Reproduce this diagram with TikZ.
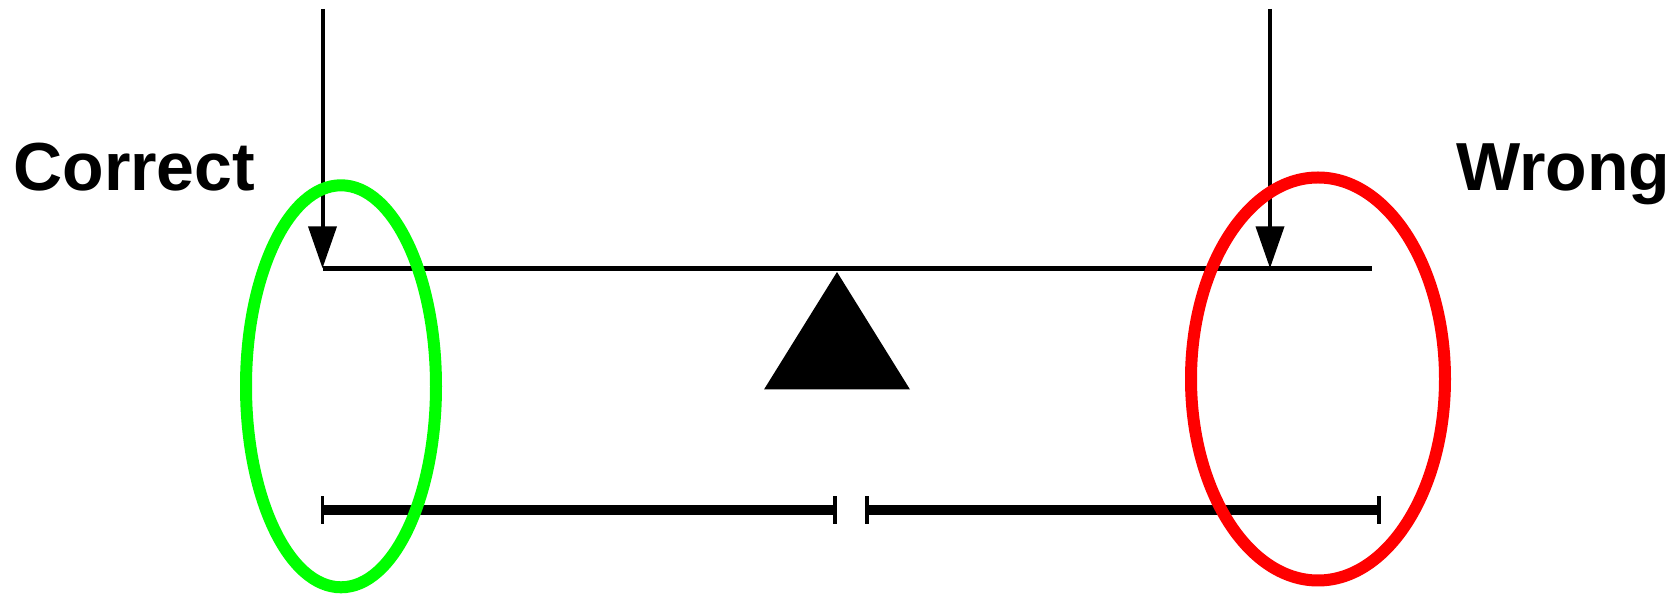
\documentclass[tikz,border=0pt]{standalone}
\usepackage{fontspec}
\setmainfont{Liberation Sans}
\usetikzlibrary{
    positioning,
    arrows.meta
}
\definecolor{verde}{RGB}{0,255,0}
\definecolor{rojo}{RGB}{255,0,0}
\tikzset{
    >=Stealth,
    fuerza/.style={
        line width=2pt,
        -{Triangle[width=14pt,length=21pt]}
    },
    barra/.style={
        line width=2.3pt
    },
    cota/.style={
        line width=5pt,
        {Bar[width=13.7pt,line width=1.8pt]}-{Bar[width=13.7pt,line width=1.8pt]}
    },
    anillo/.style={
        line width=6pt
    },
    etiqueta/.style={
        font=\bfseries\fontsize{34}{40}\selectfont,
        inner sep=0pt,
        anchor=base west
    }
}
\begin{document}
\begin{tikzpicture}[
    x=0.5pt,
    y=0.5pt
]
    \useasboundingbox (0,0) rectangle (1678,594);

    % Puntos
    \coordinate (fl) at (322.5,585);
    \coordinate (fr) at (1270,585);
    \coordinate (bl) at (322.5,325.7);
    \coordinate (br) at (1372,325.7);
    \coordinate (pl) at (bl-|fr);

    \coordinate (cl) at (320.5,84);
    \coordinate (cm) at (837,84);
    \coordinate (cn) at (865,84);
    \coordinate (cr) at (1381,84);

    % Textos
    \node[etiqueta] (correct) at (13,403.5)   {Correct};
    \node[etiqueta] (wrong)   at (1456,403.5) {Wrong};

    % Barra y fuerzas
    \draw[barra] (bl) -- (br);
    \draw[fuerza] (fl) -- (bl);
    \draw[fuerza] (fr) -- (pl);

    % Apoyo
    \fill (837,322) -- (910,204.5) -- (764,204.5) -- cycle;

    % Cotas
    \draw[cota] (cl) -- (cm);
    \draw[cota] (cn) -- (cr);

    % Anillos
    \draw[anillo, verde] (341,207.7) ellipse [x radius=95, y radius=201];
    \draw[anillo, rojo] (1318,215) ellipse [x radius=127, y radius=201.5];

\end{tikzpicture}
\end{document}
